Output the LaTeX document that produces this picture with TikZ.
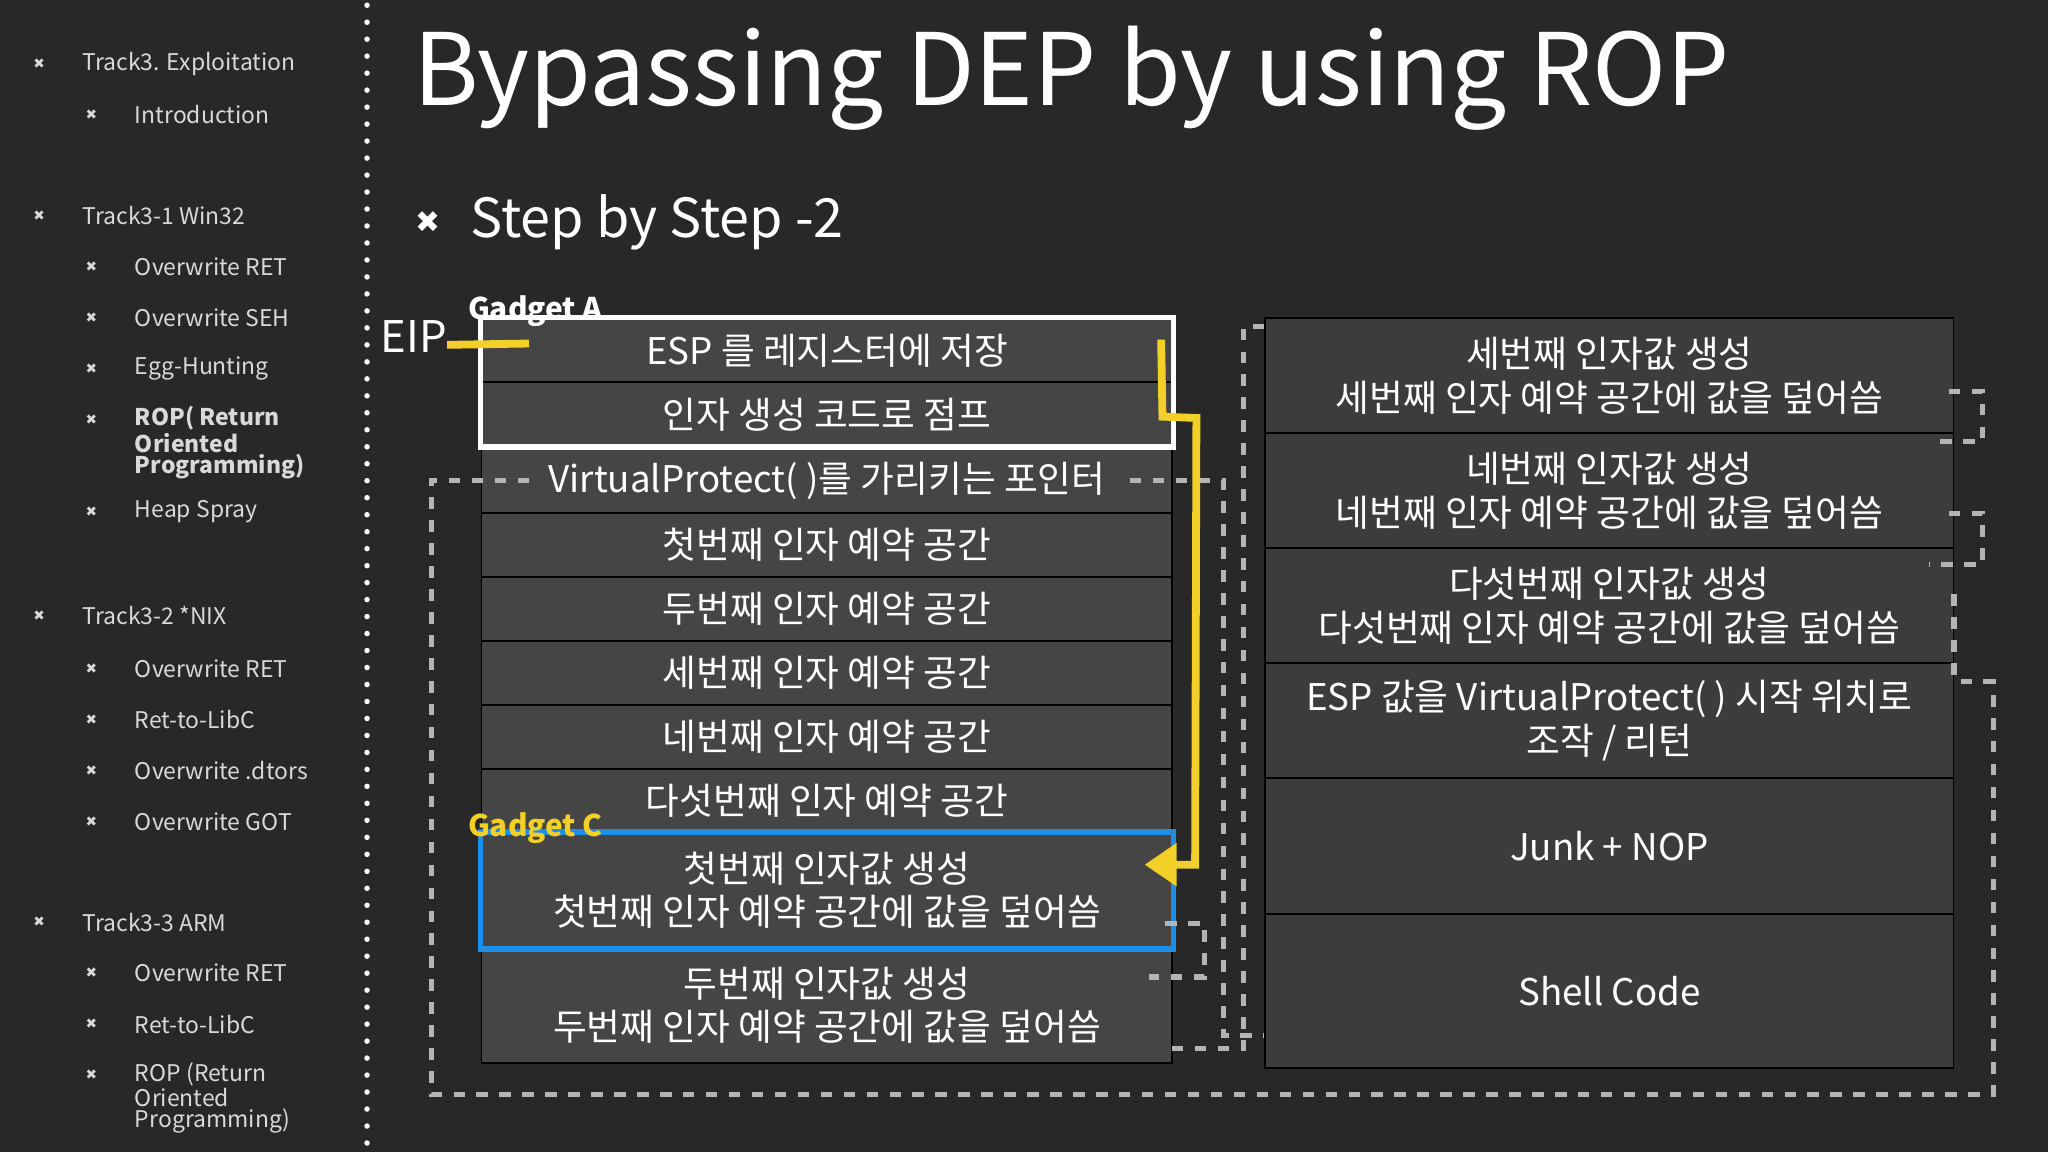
\documentclass[tikz,border=0pt]{standalone}
\usepackage{fontspec}
\setmainfont{Noto Sans CJK KR}
\newfontfamily\symfont{DejaVu Sans}
\usetikzlibrary{arrows.meta}
\definecolor{bggray}{HTML}{282828}
\definecolor{rowgray}{HTML}{454545}
\definecolor{rowgrayR}{HTML}{3C3C3C}
\definecolor{gadgetyellow}{HTML}{F2D027}
\definecolor{gadgetblue}{HTML}{1E8FE8}
\definecolor{dashgray}{HTML}{B4B4B4}

\begin{document}
\begin{tikzpicture}[x=0.02cm,y=-0.02cm,
    side/.style={anchor=west,text=white!85!black,font=\fontsize{10}{11}\selectfont,inner sep=0},
    sidebold/.style={side,font=\fontsize{10}{8}\selectfont\bfseries,align=left},
    bulletmark/.style={text=white!85!black,font=\symfont\fontsize{6}{6}\selectfont,inner sep=0},
    rowL/.style={anchor=north west,fill=rowgray,draw=black,line width=0.8pt,minimum width=10.58cm,
        inner sep=0,text=white,align=center,font=\fontsize{16}{19}\selectfont},
    rowR/.style={rowL,fill=rowgrayR,minimum width=10.54cm},
    link/.style={dashgray,line width=2.2pt,dash pattern=on 5pt off 5pt},
    gadget/.style={anchor=west,font=\fontsize{13}{13}\selectfont\bfseries,inner sep=0}]
    \fill[bggray] (0,0) rectangle (1568,882);

    % sidebar
    \draw[white,line width=2.4pt,line cap=round,dash pattern=on 0pt off 7.4pt] (281,4) -- (281,882);
    \foreach \y/\t in {49/Track3. Exploitation,165/Track3-1 Win32,471/Track3-2 *NIX,706/Track3-3 ARM}
        {\node[bulletmark] at (30,\y) {✖}; \node[side] at (63,\y) {\t};}
    \foreach \y/\t in {88/Introduction,204/Overwrite RET,243/Overwrite SEH,282/Egg-Hunting,392/Heap Spray,
        512/Overwrite RET,551/Ret-to-LibC,590/Overwrite .dtors,629/Overwrite GOT,745/Overwrite RET,784/Ret-to-LibC}
        {\node[bulletmark] at (70,\y) {✖}; \node[side] at (103,\y) {\t};}
    \node[bulletmark] at (70,321) {✖};
    \node[sidebold,anchor=north west] at (103,311) {ROP( Return\\Oriented\\Programming)};
    \node[bulletmark] at (70,823) {✖};
    \node[side,anchor=north west,align=left,font=\fontsize{10}{8}\selectfont] at (103,813) {ROP (Return\\Oriented\\Programming)};

    % title
    \node[anchor=west,text=white,font=\fontsize{43.5}{44}\selectfont,inner sep=0] (title) at (316,60) {Bypassing DEP by using ROP};
    \node[text=white,font=\symfont\fontsize{13}{13}\selectfont,inner sep=0] at (328,170) {✖};
    \node[anchor=west,text=white,font=\fontsize{23.5}{24}\selectfont,inner sep=0] (step) at (360,170) {Step by Step -2};

    % left stack
    \node[rowL,minimum height=0.98cm] (espsave) at (368,243) {ESP 를 레지스터에 저장};
    \node[rowL,minimum height=0.98cm] (jump) at (368,292) {인자 생성 코드로 점프};
    \node[rowL,minimum height=0.98cm] (vp) at (368,343) {VirtualProtect( )를 가리키는 포인터};
    \node[rowL,minimum height=0.98cm] (res1) at (368,392) {첫번째 인자 예약 공간};
    \node[rowL,minimum height=0.98cm] (res2) at (368,441) {두번째 인자 예약 공간};
    \node[rowL,minimum height=0.98cm] (res3) at (368,490) {세번째 인자 예약 공간};
    \node[rowL,minimum height=0.98cm] (res4) at (368,539) {네번째 인자 예약 공간};
    \node[rowL,minimum height=0.98cm] (res5) at (368,588) {다섯번째 인자 예약 공간};
    \node[rowL,minimum height=1.76cm] (arg1) at (368,637) {첫번째 인자값 생성\\첫번째 인자 예약 공간에 값을 덮어씀};
    \node[rowL,minimum height=1.76cm] (arg2) at (368,725) {두번째 인자값 생성\\두번째 인자 예약 공간에 값을 덮어씀};
    \draw[white,line width=2.4pt] (espsave.north west) rectangle (jump.south east);
    \draw[gadgetblue,line width=2.4pt] (arg1.north west) rectangle (arg1.south east);

    % right stack
    \node[rowR,minimum height=1.76cm] (arg3) at (968,243) {세번째 인자값 생성\\세번째 인자 예약 공간에 값을 덮어씀};
    \node[rowR,minimum height=1.76cm] (arg4) at (968,331) {네번째 인자값 생성\\네번째 인자 예약 공간에 값을 덮어씀};
    \node[rowR,minimum height=1.76cm] (arg5) at (968,419) {다섯번째 인자값 생성\\다섯번째 인자 예약 공간에 값을 덮어씀};
    \node[rowR,minimum height=1.76cm] (ret) at (968,507) {ESP 값을 VirtualProtect( ) 시작 위치로\\조작 / 리턴};
    \node[rowR,minimum height=2.08cm] (junk) at (968,595) {Junk + NOP};
    \node[rowR,minimum height=2.36cm] (shell) at (968,699) {Shell Code};

    % labels
    \node[anchor=west,text=white,font=\fontsize{19}{19}\selectfont,inner sep=0] (eip) at (291,258) {EIP};
    \node[gadget,text=white] (gadA) at (358,238) {Gadget A};
    \node[gadget,text=gadgetyellow] (gadC) at (358,634) {Gadget C};

    % dashed links
    \coordinate (vpL) at (405,368);
    \coordinate (vpR) at (865,368);
    \draw[link] (vpL) -- (330,368) -- (330,838) -- (1526,838) -- (1526,522) -- (ret.east |- 0,522);
    \draw[link] (vpR) -- (937,368) -- (937,793) -- (shell.west |- 0,793);
    \draw[link] (arg3.west |- 0,250) -- (952,250) -- (952,803) -- (890,803);
    \draw[link] (892,707) -- (922,707) -- (922,748) -- (880,748);
    \draw[link] (1492,300) -- (1518,300) -- (1518,338) -- (1477,338);
    \draw[link] (1492,393) -- (1518,393) -- (1518,432) -- (1477,432);
    \draw[link] (1496,455) -- (1496,520);

    % gadget flow
    \draw[gadgetyellow,line width=3.4pt] (eip.east |- 0,264) -- (405,263);
    \draw[gadgetyellow,line width=3.4pt,line join=miter,-{Triangle[length=14pt,width=18pt]}]
        (889,260) -- (890,319) -- (916,320) -- (915,662) -- (arg1.east |- 0,662) -- ++(-22,0);
\end{tikzpicture}
\end{document}
